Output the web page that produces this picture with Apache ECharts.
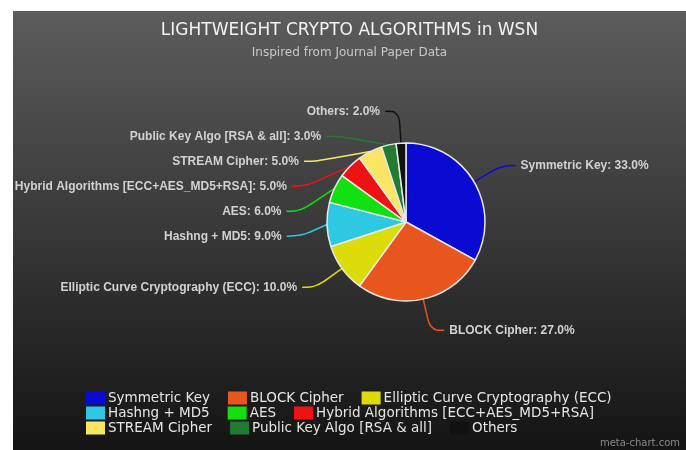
<!DOCTYPE html>
<html>
<head>
<meta charset="utf-8">
<script src="https://cdn.jsdelivr.net/npm/echarts@6/dist/echarts.min.js"></script>
<style>
  html, body { margin: 0; padding: 0; background: #fff; }
  #pie { position: absolute; left: 13px; top: 11px; width: 673px; height: 439px; }
</style>
</head>
<body>
<div id="pie"></div>
<script>
// 各分类占比
var categories = [
  "Symmetric Key",
  "BLOCK Cipher",
  "Elliptic Curve Cryptography (ECC)",
  "Hashng + MD5",
  "AES",
  "Hybrid Algorithms [ECC+AES_MD5+RSA]",
  "STREAM Cipher",
  "Public Key Algo [RSA & all]",
  "Others"
];
var shares = [33, 27, 10, 9, 6, 5, 5, 3, 2];
var colors = ["#0a0ad2", "#e8561e", "#dcdc0a", "#2ec8e2", "#12e012", "#ee1212", "#fae664", "#237a32", "#111111"];

// legend rows as in the original
var legendRows = [
  categories.slice(0, 3),
  categories.slice(3, 6),
  categories.slice(6, 9)
];

var myChart = echarts.init(document.getElementById("pie"));

var pieData = categories.map(function (name, i) {
  return {
    name: name,
    value: shares[i],
    itemStyle: { color: colors[i] },
    labelLine: { lineStyle: { color: colors[i] } }
  };
});

var legends = legendRows.map(function (row, i) {
  return {
    data: row,
    left: 68,
    top: 375 + i * 15,
    itemWidth: 19,
    itemHeight: 13,
    itemGap: 18,
    icon: "rect",
    itemStyle: { borderWidth: 0 },
    textStyle: {
      color: "#e6e6e6",
      fontSize: 13.5,
      fontFamily: "DejaVu Sans",
      padding: [0, 0, 0, -2]
    }
  };
});

var option = {
  backgroundColor: new echarts.graphic.LinearGradient(0, 0, 0, 1, [
    { offset: 0, color: "#5c5c5c" },
    { offset: 1, color: "#141414" }
  ]),
  title: {
    text: "LIGHTWEIGHT CRYPTO ALGORITHMS in WSN",
    subtext: "Inspired from Journal Paper Data",
    left: "center",
    top: 6,
    itemGap: 8,
    textStyle: {
      color: "#f2f2f2",
      fontSize: 17,
      fontWeight: "normal",
      fontFamily: "DejaVu Sans"
    },
    subtextStyle: {
      color: "#c8c8c8",
      fontSize: 12,
      fontFamily: "DejaVu Sans"
    }
  },
  legend: legends,
  graphic: [
    {
      type: "text",
      right: 6,
      bottom: 2,
      style: {
        text: "meta-chart.com",
        fill: "#8a8a8a",
        fontSize: 10,
        fontFamily: "DejaVu Sans"
      }
    }
  ],
  series: [
    {
      type: "pie",
      center: [393, 211],
      radius: 79,
      startAngle: 90,
      clockwise: true,
      avoidLabelOverlap: true,
      itemStyle: {
        borderColor: "#e8e8e8",
        borderWidth: 1.5
      },
      label: {
        show: true,
        color: "#d2d2d2",
        fontSize: 12,
        lineHeight: 23,
        fontWeight: "bold",
        fontFamily: "Liberation Sans",
        overflow: "none",
        formatter: function (p) {
          return p.name + ": " + p.percent.toFixed(1) + "%";
        }
      },
      labelLine: {
        show: true,
        length: 32,
        length2: 14,
        smooth: 0.4,
        lineStyle: { width: 1.5 }
      },
      emphasis: { scale: false },
      data: pieData
    }
  ]
};
myChart.setOption(option);
window.addEventListener("resize", () => {
  myChart.resize();
});
</script>
</body>
</html>
